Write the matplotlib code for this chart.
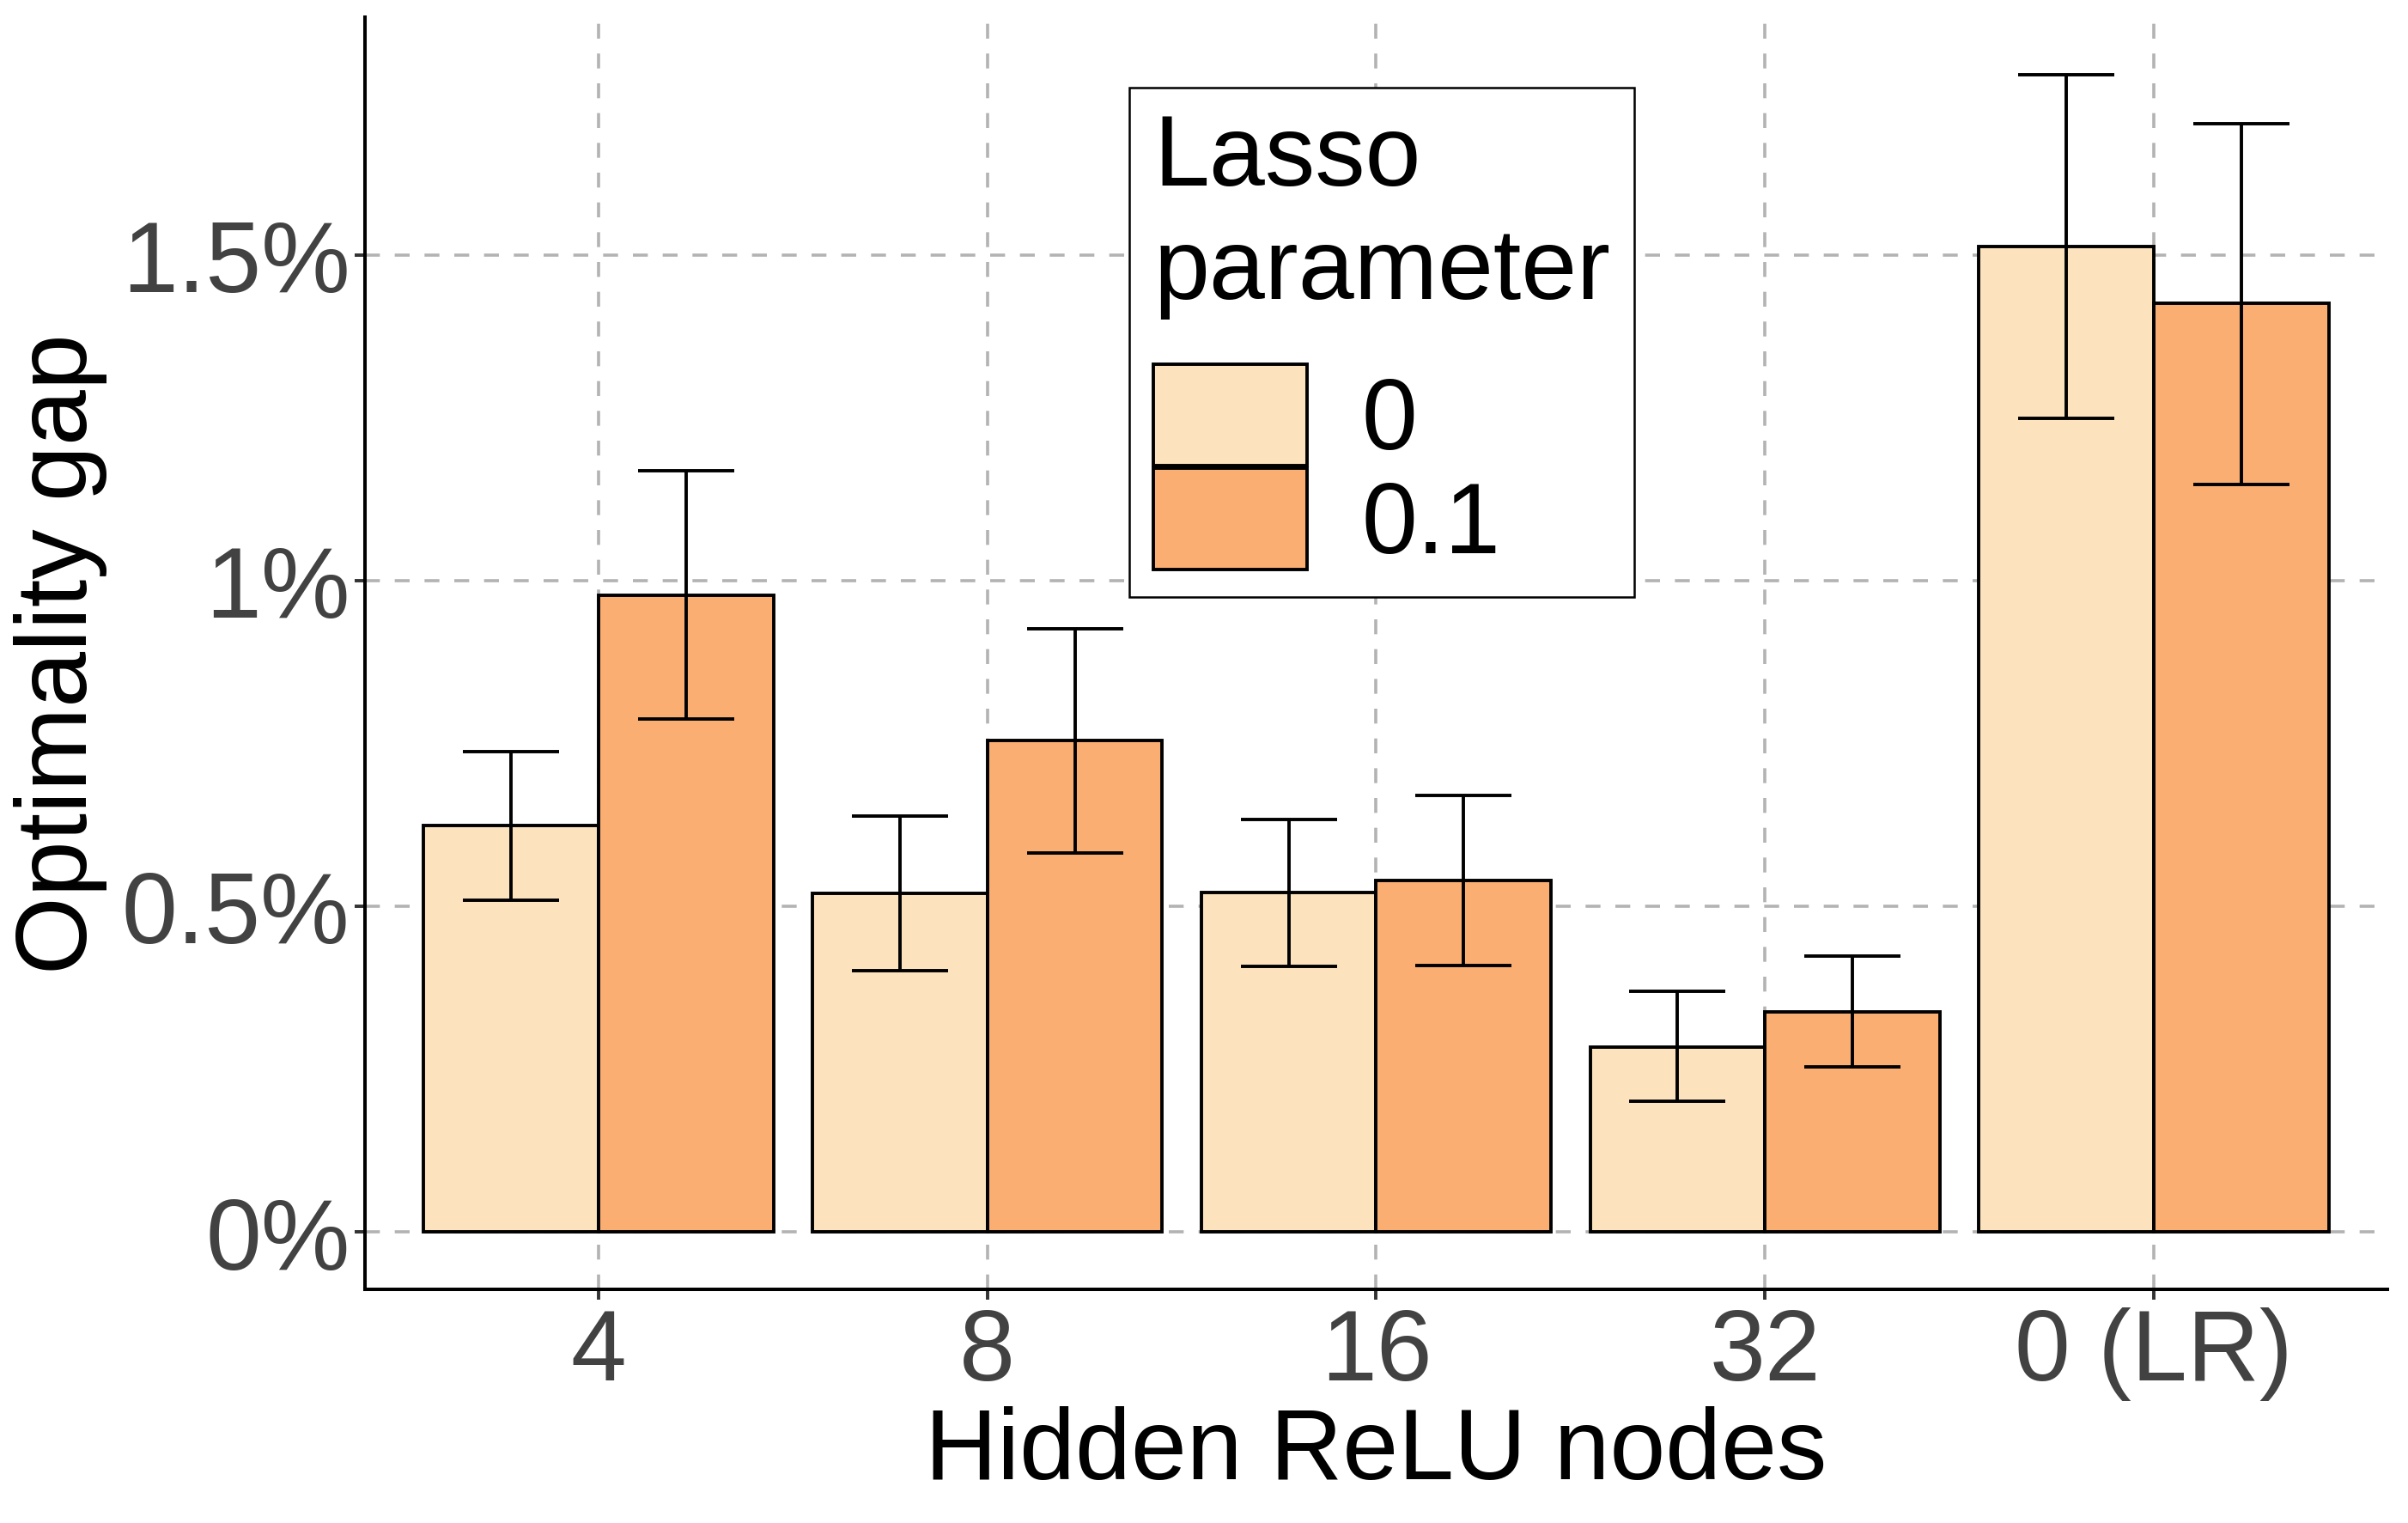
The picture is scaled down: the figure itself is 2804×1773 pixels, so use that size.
#!/usr/bin/env python3
"""Optimality gap by hidden ReLU node count, grouped by lasso parameter."""

import matplotlib

matplotlib.use("Agg")
import matplotlib.pyplot as plt
import numpy as np

plt.rcParams["font.family"] = ["Liberation Sans", "DejaVu Sans"]

CATEGORIES = ["4", "8", "16", "32", "0 (LR)"]
LASSO_LABELS = ["0", "0.1"]

# mean optimality gap (%) and error bar bounds, one list per lasso value
GAP_LASSO_0 = [0.624, 0.520, 0.521, 0.284, 1.513]
LOW_LASSO_0 = [0.509, 0.401, 0.408, 0.201, 1.249]
HIGH_LASSO_0 = [0.737, 0.639, 0.633, 0.369, 1.776]

GAP_LASSO_01 = [0.977, 0.754, 0.539, 0.338, 1.426]
LOW_LASSO_01 = [0.787, 0.582, 0.409, 0.253, 1.148]
HIGH_LASSO_01 = [1.168, 0.926, 0.670, 0.423, 1.702]

Y_TICKS = [0.0, 0.5, 1.0, 1.5]
Y_TICK_LABELS = ["0%", "0.5%", "1%", "1.5%"]

COLORS = ["#FCE3BD", "#FBAE72"]
TICK_GREY = "#424242"
GRID_GREY = "#B3B3B3"


def main() -> None:
    fig = plt.figure(figsize=(14.02, 8.87), dpi=200)
    ax = fig.add_axes([0.1516, 0.1533, 0.8398, 0.8349])

    x = np.arange(len(CATEGORIES))
    width = 0.45
    series = [
        (GAP_LASSO_0, LOW_LASSO_0, HIGH_LASSO_0),
        (GAP_LASSO_01, LOW_LASSO_01, HIGH_LASSO_01),
    ]

    for idx, (gap, low, high) in enumerate(series):
        gap = np.array(gap)
        xpos = x + (idx - 0.5) * width
        ax.bar(
            xpos, gap, width=width, color=COLORS[idx], edgecolor="black",
            linewidth=1.4, label=LASSO_LABELS[idx], zorder=2,
        )
        yerr = [gap - np.array(low), np.array(high) - gap]
        ax.errorbar(
            xpos, gap, yerr=yerr, fmt="none", ecolor="black",
            elinewidth=1.4, capsize=20.3, capthick=1.4, zorder=3,
        )

    ax.set_xlim(-0.6, len(CATEGORIES) - 0.4)
    ax.set_ylim(-0.0884, 1.865)
    ax.set_xticks(x)
    ax.set_xticklabels(CATEGORIES)
    ax.set_yticks(Y_TICKS)
    ax.set_yticklabels(Y_TICK_LABELS)

    ax.set_axisbelow(True)
    ax.grid(True, color=GRID_GREY, linewidth=1.3, linestyle=(0, (4.8, 4.8)))

    for side in ("top", "right"):
        ax.spines[side].set_visible(False)
    for side in ("left", "bottom"):
        ax.spines[side].set_linewidth(1.45)
        ax.spines[side].set_color("black")

    ax.tick_params(axis="both", length=4.3, width=1.4, color="#333333",
                   labelsize=42, labelcolor=TICK_GREY)
    ax.tick_params(axis="x", pad=3)
    ax.tick_params(axis="y", pad=2)

    ax.set_xlabel("Hidden ReLU nodes", fontsize=42, color="black", labelpad=2)
    ax.set_ylabel("Optimality gap", fontsize=42, color="black", labelpad=6)

    legend = ax.legend(
        title="Lasso\nparameter",
        loc="upper left",
        bbox_to_anchor=(0.378, 0.9446),
        fontsize=42,
        title_fontsize=42,
        frameon=True,
        fancybox=False,
        edgecolor="black",
        framealpha=1,
        handlelength=1.53,
        handleheight=1.18,
        handletextpad=0.55,
        labelspacing=-0.013,
        borderpad=0.24,
        borderaxespad=0,
    )
    legend.get_frame().set_linewidth(0.9)
    legend._legend_box.align = "left"
    legend._legend_box.sep = 19
    legend.get_title().set_linespacing(1.27)

    fig.savefig("out.png", dpi=200)
    plt.close(fig)


if __name__ == "__main__":
    main()
